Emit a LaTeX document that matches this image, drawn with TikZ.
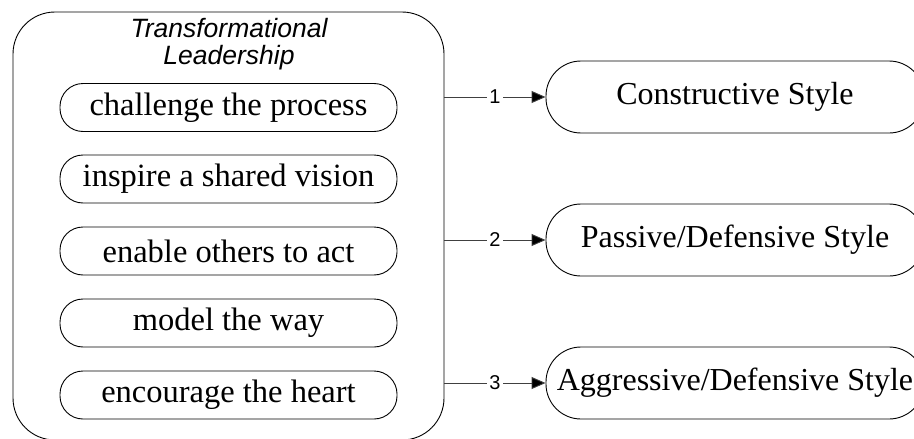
\documentclass[tikz,border=0pt]{standalone}
\usepackage{fontspec}
\setmainfont{Liberation Serif}
\setsansfont{Liberation Sans}
\usetikzlibrary{arrows.meta}
\tikzset{
  outer/.style={draw, line width=0.9pt, rounded corners=42pt, minimum width=431pt, minimum height=428pt, inner sep=0pt},
  title/.style={font=\sffamily\itshape\fontsize{26.5}{27}\selectfont, align=center, inner sep=0pt},
  pill/.style={draw, line width=0.9pt, rounded corners=23pt, minimum width=337pt, minimum height=48pt, inner sep=0pt, font=\fontsize{32.5}{36}\selectfont},
  stylebox/.style={draw, line width=0.9pt, rounded corners=35pt, minimum width=378pt, minimum height=72pt, inner sep=0pt, font=\fontsize{32}{36}\selectfont},
  conn/.style={line width=0.9pt, draw=black!75, -{Triangle[length=14pt,width=12pt,fill=black]}},
  num/.style={font=\sffamily\fontsize{20}{21}\selectfont, fill=white, inner sep=2.5pt}
}
\begin{document}
\begin{tikzpicture}[x=1pt,y=-1pt]
\useasboundingbox (0,0) rectangle (914,439);
\node[outer] (tl) at (228.5,226) {};
\node[title] (tt) at (229,44) {Transformational\\Leadership};
\node[pill] (p1) at (228.5,107.5) {challenge the process};
\node[pill] (p2) at (228.5,179) {inspire a shared vision};
\node[pill] (p3) at (228.5,251) {enable others to act};
\node[pill] (p4) at (228.5,323) {model the way};
\node[pill] (p5) at (228.5,395) {encourage the heart};
\node[stylebox] (s1) at (735,97) {Constructive Style};
\node[stylebox] (s2) at (735,240) {Passive/Defensive Style};
\node[stylebox] (s3) at (735,383) {Aggressive/Defensive Style};
\draw[conn] (tl.east |- s1.west) -- node[num]{1} (s1.west);
\draw[conn] (tl.east |- s2.west) -- node[num]{2} (s2.west);
\draw[conn] (tl.east |- s3.west) -- node[num]{3} (s3.west);
\end{tikzpicture}
\end{document}
